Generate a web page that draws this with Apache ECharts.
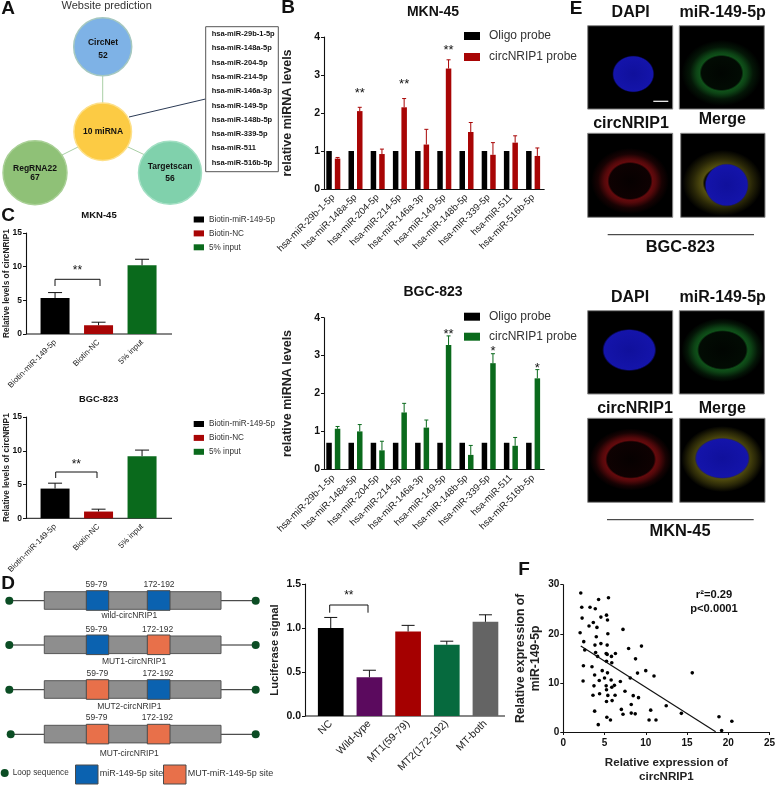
<!DOCTYPE html>
<html>
<head>
<meta charset="utf-8">
<style>
  html, body { margin: 0; padding: 0; background: #fff; }
  #chart { width: 778px; height: 785px; }
</style>
<script src="https://cdn.jsdelivr.net/npm/echarts@6/dist/echarts.min.js"></script>
</head>
<body>
<div id="chart"></div>
<script>
const FONT = '"Liberation Sans", Arial, sans-serif';

// panel B
const miRNAs = ['hsa-miR-29b-1-5p', 'hsa-miR-148a-5p', 'hsa-miR-204-5p', 'hsa-miR-214-5p', 'hsa-miR-146a-3p',
  'hsa-miR-149-5p', 'hsa-miR-148b-5p', 'hsa-miR-339-5p', 'hsa-miR-511', 'hsa-miR-516b-5p'];
const mknOligo = [1, 1, 1, 1, 1, 1, 1, 1, 1, 1];
const mknProbe = [0.8, 2.05, 0.92, 2.15, 1.17, 3.17, 1.5, 0.9, 1.22, 0.87];
const mknProbeTop = [0.83, 2.15, 1.05, 2.38, 1.57, 3.4, 1.75, 1.22, 1.4, 1.08];
const mknSig = ['', '**', '', '**', '', '**', '', '', '', ''];
const mknSigLevel = [0, 2.59, 0, 2.83, 0, 3.73, 0, 0, 0, 0];
const bgcOligo = [0.7, 0.7, 0.7, 0.7, 0.7, 0.7, 0.7, 0.7, 0.7, 0.7];
const bgcProbe = [1.07, 1.0, 0.5, 1.5, 1.1, 3.28, 0.38, 2.8, 0.62, 2.4];
const bgcProbeTop = [1.13, 1.18, 0.74, 1.74, 1.3, 3.52, 0.63, 3.05, 0.84, 2.63];
const bgcSig = ['', '', '', '', '', '**', '', '*', '', '*'];
const bgcSigLevel = [0, 0, 0, 0, 0, 3.63, 0, 3.2, 0, 2.74];

// panel C
const pullLabels = ['Biotin-miR-149-5p', 'Biotin-NC', '5% input'];
const mknPull = [5.35, 1.3, 10.2];
const mknPullTop = [6.15, 1.75, 11.1];
const bgcPull = [4.4, 1.0, 9.2];
const bgcPullTop = [5.2, 1.35, 10.1];

// panel D
const lucLabels = ['NC', 'Wild-type', 'MT1(59-79)', 'MT2(172-192)', 'MT-both'];
const lucValues = [1.0, 0.44, 0.96, 0.81, 1.07];
const lucTop = [1.12, 0.52, 1.03, 0.85, 1.15];
const lucColors = ['#000000', '#5b0a5e', '#a50000', '#066a3e', '#646464'];

// panel F
const corrPoints = [[2.12, 28.3], [4.28, 27.0], [5.48, 27.35], [2.24, 25.4], [3.24, 25.4], [3.88, 25.1], [5.24, 23.8],
  [5.36, 22.8], [2.28, 23.2], [4.56, 23.4], [3.64, 22.3], [3.12, 21.6], [4.08, 21.3], [2.04, 20.2], [5.4, 20.0],
  [7.24, 20.9], [4.0, 19.4], [2.48, 18.4], [3.84, 17.7], [4.56, 18.0], [5.32, 17.7], [9.48, 17.5], [7.92, 17.0],
  [2.6, 16.7], [3.92, 16.2], [5.2, 16.0], [6.32, 16.0], [5.32, 15.8], [5.84, 15.4], [4.16, 15.4], [8.76, 14.9],
  [5.24, 14.4], [5.88, 14.1], [2.44, 13.5], [3.48, 13.3], [10, 12.5], [4.72, 12.5], [9, 12.0], [5.36, 12.05],
  [15.64, 12.05], [3.8, 11.6], [11, 11.4], [8.12, 11.0], [5, 11], [5.8, 10.6], [4.36, 10.5], [2.4, 10.4], [6.92, 10.3],
  [6.2, 9.5], [5.2, 9.4], [3.72, 9.4], [5.88, 9.1], [5.24, 8.6], [7.48, 8.3], [4.4, 7.8], [3.6, 7.5], [5.4, 7.45],
  [6.28, 7.5], [8.48, 7.4], [9.12, 7.0], [5.92, 6.4], [5.24, 6.2], [8.24, 5.6], [12.48, 5.35], [7.04, 4.6], [10.6, 4.45],
  [3.8, 4.25], [7.24, 3.6], [8.24, 3.85], [8.72, 3.7], [14.32, 3.8], [5.28, 3.0], [18.88, 3.1], [5.72, 2.45], [10.4, 2.45],
  [11.24, 2.45], [20.44, 2.2], [4.24, 1.5], [19.2, 0.3]];
const fitLine = [[2.12, 17.5], [18.48, 0.05]];

const RED = '#a80505';
const GREEN = '#0a6a1c';

const chart = echarts.init(document.getElementById('chart'));

const txt = (x, y, text, size, opts = {}) => ({
  type: 'text',
  x,
  y,
  rotation: opts.rotation || 0,
  style: {
    text,
    font: `${opts.bold ? 'bold ' : ''}${size}px ${FONT}`,
    fill: opts.color || '#111',
    align: opts.align || 'center',
    verticalAlign: 'middle',
    textAlign: opts.align || 'center',
    textVerticalAlign: 'middle',
  },
});

const seg = (x1, y1, x2, y2, color = '#111', w = 1) => ({
  type: 'line',
  shape: { x1, y1, x2, y2 },
  style: { stroke: color, lineWidth: w },
});

const box = (x, y, w, h, fill, stroke = '#555', lw = 1) => ({
  type: 'rect',
  shape: { x, y, width: w, height: h },
  style: { fill, stroke, lineWidth: lw },
});

const dot = (x, y, r, fill, stroke) => ({
  type: 'circle',
  shape: { cx: x, cy: y, r },
  style: { fill, stroke: stroke || fill, lineWidth: stroke ? 1.5 : 0 },
});

const bracket = (x1, x2, yTop, yBottom, starY) => [
  seg(x1, yBottom, x1, yTop),
  seg(x1, yTop, x2, yTop),
  seg(x2, yTop, x2, yBottom),
  txt((x1 + x2) / 2, starY, '**', 12),
];

// panel A
const panelA = [
  seg(102.7, 70, 102.7, 110, '#a9cfa6', 1),
  seg(62, 155, 78, 147, '#a9cfa6', 1),
  seg(128, 147, 145, 155, '#a9cfa6', 1),
  seg(129, 117, 205.5, 99, '#2b3a55', 1),
  dot(102.7, 46.7, 29, '#7eb2e6', '#a5c8c0'),
  dot(102.7, 131.7, 28.8, '#fccb44', '#fde08a'),
  dot(35, 172.7, 32, '#8fc177', '#a9d096'),
  dot(170, 172.7, 31.5, '#80d1ac', '#a2dfc3'),
  txt(103, 43, 'CircNet', 8.5, { bold: true }),
  txt(103, 56, '52', 8.5, { bold: true }),
  txt(103, 132, '10 miRNA', 8.5, { bold: true }),
  txt(35, 168.5, 'RegRNA22', 8.5, { bold: true }),
  txt(35, 177.5, '67', 8.5, { bold: true }),
  txt(170, 166.5, 'Targetscan', 8.5, { bold: true }),
  txt(170, 179, '56', 8.5, { bold: true }),
  txt(106.7, 6, 'Website prediction', 11, { color: '#333' }),
  box(205.7, 26.7, 72.6, 145, '#fff', '#555', 1),
].concat(miRNAs.map((m, i) => txt(211.7, 34 + i * 14.3, m, 7.5, { bold: true, align: 'left' })));

// panel D schematic
const SITE_BLUE = '#0b62b0';
const SITE_ORANGE = '#e8704a';
const dRows = [
  { top: 591.7, sites: [SITE_BLUE, SITE_BLUE], numY: 585, numX: [96.3, 159], label: 'wild-circNRIP1', labelX: 129.3, labelY: 616, dotX: 9.3 },
  { top: 636, sites: [SITE_BLUE, SITE_ORANGE], numY: 629.3, numX: [96.3, 157.7], label: 'MUT1-circNRIP1', labelX: 134, labelY: 661.3, dotX: 9.3 },
  { top: 680.7, sites: [SITE_ORANGE, SITE_BLUE], numY: 673.7, numX: [97.3, 158], label: 'MUT2-circNRIP1', labelX: 129.3, labelY: 707, dotX: 9.3 },
  { top: 725.3, sites: [SITE_ORANGE, SITE_ORANGE], numY: 718, numX: [96.7, 157.3], label: 'MUT-circNRIP1', labelX: 129.3, labelY: 754, dotX: 10.7 },
];
const panelD = [];
dRows.forEach(r => {
  const mid = r.top + 9;
  panelD.push(seg(r.dotX, mid, 44.3, mid, '#222', 1));
  panelD.push(seg(221, mid, 255.7, mid, '#222', 1));
  panelD.push(dot(r.dotX, mid, 4, '#0b4d24'));
  panelD.push(dot(255.7, mid, 4, '#0b4d24'));
  panelD.push(box(44.3, r.top, 176.7, 17.6, '#8e8e8e', '#555'));
  panelD.push(box(86.3, r.top - 1, 22.4, 19.6, r.sites[0], '#4a4a4a'));
  panelD.push(box(147.3, r.top - 1, 22.7, 19.6, r.sites[1], '#4a4a4a'));
  panelD.push(txt(r.numX[0], r.numY, '59-79', 8.5, { color: '#333' }));
  panelD.push(txt(r.numX[1], r.numY, '172-192', 8.5, { color: '#333' }));
  panelD.push(txt(r.labelX, r.labelY, r.label, 8.5, { color: '#333' }));
});
panelD.push(
  dot(4.7, 773, 4, '#0b4d24'),
  txt(12.7, 773, 'Loop sequence', 8.2, { align: 'left', color: '#333' }),
  box(75.5, 765, 22.5, 19, SITE_BLUE, '#4a4a4a'),
  txt(99.7, 773.7, 'miR-149-5p site', 9, { align: 'left', color: '#333' }),
  box(163.5, 765, 22.5, 19, SITE_ORANGE, '#4a4a4a'),
  txt(187.7, 773.7, 'MUT-miR-149-5p site', 9, { align: 'left', color: '#333' }),
);

// panel E, cell images
const cellFill = (inner, rgb, outerAlpha) => ({
  type: 'radial', x: 0.5, y: 0.5, r: 0.5,
  colorStops: [
    { offset: 0, color: `rgba(${rgb},0.03)` },
    { offset: Math.max(inner - 0.05, 0), color: `rgba(${rgb},0.07)` },
    { offset: inner, color: `rgba(${rgb},0.5)` },
    { offset: inner + 0.08, color: `rgba(${rgb},0.42)` },
    { offset: inner + 0.24, color: `rgba(${rgb},${outerAlpha})` },
    { offset: 1, color: `rgba(${rgb},0)` },
  ],
});
const ell = (cx, cy, rx, ry, fill) => ({
  type: 'circle',
  x: cx,
  y: cy,
  scaleX: rx / ry,
  shape: { cx: 0, cy: 0, r: ry },
  style: { fill },
});
const nucleus = (cx, cy, rx, ry) => ell(cx, cy, rx, ry, {
  type: 'radial', x: 0.5, y: 0.5, r: 0.5,
  colorStops: [
    { offset: 0, color: '#10109c' },
    { offset: 0.93, color: '#1414aa' },
    { offset: 1, color: 'rgba(10,10,120,0.2)' },
  ],
});
const panels = [587.7, 679.3];
const panelE = [
  // BGC-823 set
  box(panels[0], 25.7, 85, 83.4, '#000', '#888'),
  box(panels[1], 25.7, 85, 83.4, '#000', '#888'),
  box(panels[0], 133.3, 85, 84, '#000', '#888'),
  box(680.7, 133.3, 84.3, 84, '#000', '#888'),
  nucleus(633.3, 74, 21, 18.5),
  seg(653.3, 101.3, 668.3, 101.3, '#fff', 1.2),
  ell(721.5, 73, 40, 33, cellFill(0.55, '30,160,50', 0.14)),
  ell(630, 181, 39, 33, cellFill(0.58, '200,20,25', 0.12)),
  ell(722.5, 183, 40, 33, cellFill(0.5, '170,160,30', 0.24)),
  nucleus(726.7, 185, 22, 21.5),
  // MKN-45 set
  box(panels[0], 310.7, 85, 83.3, '#000', '#888'),
  box(panels[1], 310.7, 85, 83.3, '#000', '#888'),
  box(panels[0], 418.3, 85, 84, '#000', '#888'),
  box(679.7, 418.3, 85.3, 84, '#000', '#888'),
  nucleus(629.3, 350, 27, 21),
  ell(722.5, 350, 41, 32, cellFill(0.62, '30,160,50', 0.14)),
  ell(630.7, 459.5, 41, 31, cellFill(0.62, '200,20,25', 0.12)),
  ell(722.3, 459, 41, 33, cellFill(0.58, '170,160,30', 0.24)),
  nucleus(722.3, 458.3, 27.5, 20.5),
  // labels
  txt(630.7, 13, 'DAPI', 16, { bold: true }),
  txt(722.7, 13, 'miR-149-5p', 16, { bold: true }),
  txt(631, 124, 'circNRIP1', 16, { bold: true }),
  txt(722.3, 120, 'Merge', 16, { bold: true }),
  seg(607.7, 234.7, 754, 234.7, '#222', 1),
  txt(680.3, 247.3, 'BGC-823', 16.4, { bold: true }),
  txt(630, 297.3, 'DAPI', 16, { bold: true }),
  txt(722.7, 297.3, 'miR-149-5p', 16, { bold: true }),
  txt(635, 409, 'circNRIP1', 16, { bold: true }),
  txt(722.3, 409, 'Merge', 16, { bold: true }),
  seg(607, 519.7, 753.7, 519.7, '#222', 1),
  txt(680, 531.7, 'MKN-45', 16.4, { bold: true }),
];

// panel letters, titles, axis joins and brackets
const panelText = [
  txt(8, 9, 'A', 19, { bold: true }),
  txt(288, 8, 'B', 19, { bold: true }),
  txt(8, 216, 'C', 19, { bold: true }),
  txt(8, 584, 'D', 19, { bold: true }),
  txt(576, 9, 'E', 19, { bold: true }),
  txt(524, 570, 'F', 19, { bold: true }),
  txt(433, 12, 'MKN-45', 14, { bold: true }),
  txt(433, 292, 'BGC-823', 14, { bold: true }),
  txt(99, 215.7, 'MKN-45', 9.5, { bold: true }),
  txt(98.7, 399.7, 'BGC-823', 9.3, { bold: true }),
  seg(26, 334, 172, 334, '#111', 1),
  seg(26, 518.3, 172, 518.3, '#111', 1),
  seg(305, 716, 505, 716, '#111', 1.1),
  txt(714, 595, 'r²=0.29', 11.2, { bold: true }),
  txt(714, 609, 'p<0.0001', 11.2, { bold: true }),
  ...bracket(55, 100, 279.3, 286, 271),
  ...bracket(55.7, 97, 472, 478, 465),
  ...bracket(329.7, 368, 605, 612.7, 596),
];

// error bars, drawn from the axis scales
const errorBars = (gridIndex, tops, bases, offset, color, cap) => ({
  type: 'custom',
  xAxisIndex: gridIndex,
  yAxisIndex: gridIndex,
  silent: true,
  z: 3,
  encode: { x: 0, y: 1 },
  data: tops.map((t, i) => [i, t, bases[i]]),
  renderItem: (params, api) => {
    const top = api.coord([api.value(0), api.value(1)]);
    const base = api.coord([api.value(0), api.value(2)]);
    const x = top[0] + offset;
    const style = { stroke: color, lineWidth: 1, fill: 'none' };
    return {
      type: 'group',
      children: [
        { type: 'line', shape: { x1: x, y1: base[1], x2: x, y2: top[1] }, style },
        { type: 'line', shape: { x1: x - cap, y1: top[1], x2: x + cap, y2: top[1] }, style },
      ],
    };
  },
});

const stars = (gridIndex, labels, levels, offset) => ({
  type: 'custom',
  xAxisIndex: gridIndex,
  yAxisIndex: gridIndex,
  silent: true,
  encode: { x: 0, y: 1 },
  data: levels.map((l, i) => [i, l]),
  renderItem: (params, api) => {
    const label = labels[params.dataIndex];
    if (!label) return null;
    const p = api.coord([api.value(0), api.value(1)]);
    return {
      type: 'text',
      x: p[0] + offset,
      y: p[1] + 3,
      style: {
        text: label,
        font: `13px ${FONT}`,
        fill: '#111',
        align: 'center',
        verticalAlign: 'middle',
        textAlign: 'center',
        textVerticalAlign: 'middle',
      },
    };
  },
});

const probeBars = (gridIndex, oligo, probe, color) => [
  { name: 'Oligo probe', type: 'bar', xAxisIndex: gridIndex, yAxisIndex: gridIndex, barWidth: 5.5, barGap: '55%', itemStyle: { color: '#000' }, data: oligo },
  { name: 'circNRIP1 probe', type: 'bar', xAxisIndex: gridIndex, yAxisIndex: gridIndex, barWidth: 5.5, barGap: '55%', itemStyle: { color }, data: probe },
];

const pullBars = (gridIndex, values) => [
  ['Biotin-miR-149-5p', '#000'], ['Biotin-NC', RED], ['5% input', GREEN],
].map(([name, color], k) => ({
  name,
  type: 'bar',
  stack: 'pull' + gridIndex,
  xAxisIndex: gridIndex,
  yAxisIndex: gridIndex,
  barWidth: 29,
  itemStyle: { color },
  data: values.map((v, i) => (i === k ? v : null)),
}));

const categoryAxis = (gridIndex, data, size, lineShow = true, margin = 7) => ({
  type: 'category',
  gridIndex,
  data,
  axisLine: { show: lineShow, lineStyle: { color: '#111', width: 1.1 } },
  axisTick: { alignWithLabel: true, length: 3, lineStyle: { color: '#111' } },
  axisLabel: { rotate: 45, interval: 0, fontFamily: FONT, fontSize: size, color: '#222', margin },
});

const valueAxis = (gridIndex, max, interval, size, extra = {}) => ({
  type: 'value',
  gridIndex,
  min: 0,
  max,
  interval,
  splitLine: { show: false },
  axisLine: { show: true, lineStyle: { color: '#111', width: 1.1 } },
  axisTick: { show: true, length: 3, lineStyle: { color: '#111' } },
  axisLabel: { fontFamily: FONT, fontWeight: 'bold', fontSize: size, color: '#111', margin: 4 },
  ...extra,
});

const axisName = (name, gap, size, lineHeight) => ({
  name,
  nameLocation: 'middle',
  nameGap: gap,
  nameMoveOverlap: false,
  nameTextStyle: { fontFamily: FONT, fontWeight: 'bold', fontSize: size, color: '#222', lineHeight },
});

const legendBlock = (left, top, names, itemWidth, itemHeight, itemGap, size, padLeft) => ({
  left,
  top,
  orient: 'vertical',
  padding: 0,
  itemWidth,
  itemHeight,
  itemGap,
  selectedMode: false,
  icon: 'rect',
  textStyle: { fontFamily: FONT, fontSize: size, color: '#333', padding: [0, 0, 0, padLeft] },
  data: names,
});

chart.setOption({
  animation: false,
  backgroundColor: '#fff',
  legend: [
    legendBlock(464, 30, [{ name: 'Oligo probe' }, { name: 'circNRIP1 probe', itemStyle: { color: RED } }], 16, 8, 9, 12, 4),
    legendBlock(464, 310.7, [{ name: 'Oligo probe' }, { name: 'circNRIP1 probe', itemStyle: { color: GREEN } }], 16, 8, 8, 12, 4),
    legendBlock(193.7, 215.5, pullLabels.map(name => ({ name })), 10.3, 6, 5.9, 8.2, 0),
    legendBlock(193.7, 420, pullLabels.map(name => ({ name })), 10.3, 6, 5.9, 8.2, 0),
  ],
  grid: [
    { left: 322.2, width: 222, top: 37, height: 152 },
    { left: 322.2, width: 222, top: 317.7, height: 151.6 },
    { left: 33.3, width: 130.5, top: 233, height: 101 },
    { left: 33.3, width: 130.5, top: 417, height: 101.3 },
    { left: 311.4, width: 193.4, top: 584, height: 132 },
    { left: 563.3, width: 208.4, top: 584.7, height: 147.6 },
  ],
  xAxis: [
    categoryAxis(0, miRNAs, 9.5),
    categoryAxis(1, miRNAs, 9.5),
    categoryAxis(2, pullLabels, 8, false),
    categoryAxis(3, pullLabels, 8, false),
    categoryAxis(4, lucLabels, 10.5, false, 6),
    {
      type: 'value',
      gridIndex: 5,
      min: 0,
      max: 25,
      interval: 5,
      splitLine: { show: false },
      axisLine: { lineStyle: { color: '#111', width: 1.1 } },
      axisTick: { length: 3, lineStyle: { color: '#111' } },
      axisLabel: { fontFamily: FONT, fontWeight: 'bold', fontSize: 10, color: '#111', margin: 6 },
      ...axisName('Relative expression of\ncircNRIP1', 24, 11.6, 14),
    },
  ],
  yAxis: [
    valueAxis(0, 4, 1, 10.5, { offset: -1.8, ...axisName('relative miRNA levels', 30, 12.5) }),
    valueAxis(1, 4, 1, 10.5, { offset: -1.8, ...axisName('relative miRNA levels', 30, 12.5) }),
    valueAxis(2, 15, 5, 8.5, { offset: 7.3, ...axisName('Relative levels of circNRIP1', 15, 8.3) }),
    valueAxis(3, 15, 5, 8.5, { offset: 7.3, ...axisName('Relative levels of circNRIP1', 15, 8.3) }),
    valueAxis(4, 1.5, 0.5, 10.5, {
      offset: 6.4,
      axisLabel: { fontFamily: FONT, fontWeight: 'bold', fontSize: 10.5, color: '#111', margin: 4, formatter: v => v.toFixed(1) },
      ...axisName('Luciferase signal', 25, 11.2),
    }),
    valueAxis(5, 30, 10, 10, axisName('Relative expression of\nmiR-149-5p', 20, 12.2, 15)),
  ],
  series: [
    ...probeBars(0, mknOligo, mknProbe, RED),
    errorBars(0, mknProbeTop, mknProbe, 4.25, RED, 2),
    stars(0, mknSig, mknSigLevel, 4.25),
    ...probeBars(1, bgcOligo, bgcProbe, GREEN),
    errorBars(1, bgcProbeTop, bgcProbe, 4.25, GREEN, 2),
    stars(1, bgcSig, bgcSigLevel, 4.25),

    ...pullBars(2, mknPull),
    errorBars(2, mknPullTop, mknPull, 0, '#111', 7),
    ...pullBars(3, bgcPull),
    errorBars(3, bgcPullTop, bgcPull, 0, '#111', 7),

    {
      type: 'bar',
      xAxisIndex: 4,
      yAxisIndex: 4,
      barWidth: 25.7,
      data: lucValues.map((value, i) => ({ value, itemStyle: { color: lucColors[i] } })),
    },
    errorBars(4, lucTop, lucValues, 0, '#111', 6.5),

    {
      type: 'scatter',
      xAxisIndex: 5,
      yAxisIndex: 5,
      symbolSize: 3.6,
      itemStyle: { color: '#000', opacity: 1 },
      data: corrPoints,
    },
    {
      type: 'line',
      xAxisIndex: 5,
      yAxisIndex: 5,
      symbol: 'none',
      lineStyle: { color: '#111', width: 1.2 },
      data: fitLine,
    },
  ],
  graphic: { elements: [...panelA, ...panelD, ...panelE, ...panelText] },
});
</script>
</body>
</html>
